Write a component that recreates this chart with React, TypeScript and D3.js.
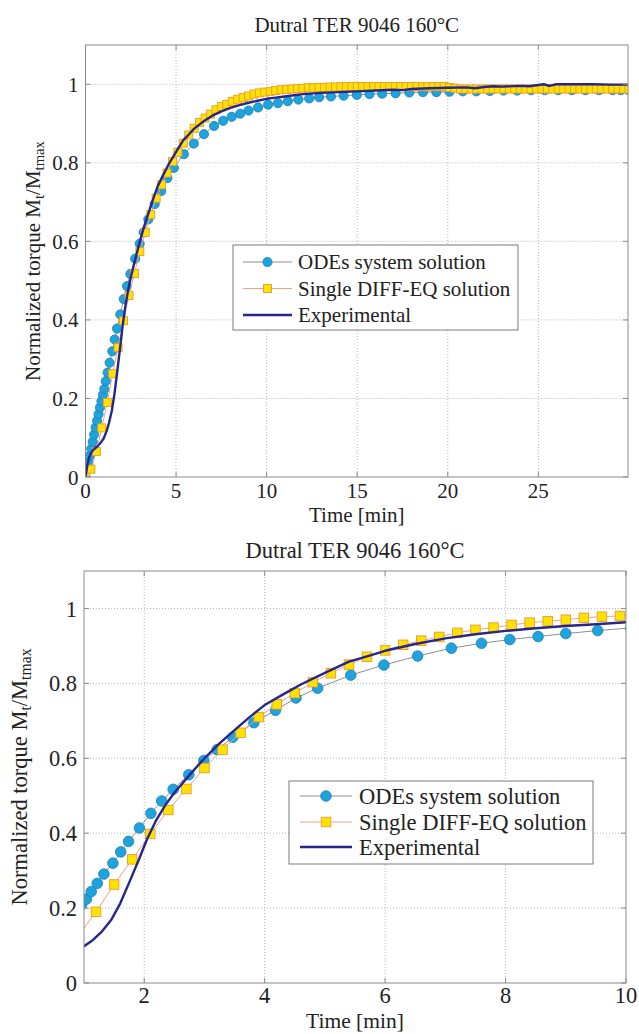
import React from "react";
import * as d3 from "d3";

const TITLE = "Dutral TER 9046 160°C";
const X_LABEL = "Time [min]";
const LEGEND_LABELS = ["ODEs system solution", "Single DIFF-EQ solution", "Experimental"];

// ODEs system solution (blue circles)
const ODE_TIME = [
  0, 0.08, 0.16, 0.24, 0.32, 0.4, 0.48, 0.56, 0.64, 0.72, 0.8, 0.88, 0.96,
  1.04, 1.12, 1.22, 1.33, 1.48, 1.61, 1.74, 1.92, 2.11, 2.29, 2.48,
  2.74, 2.99, 3.21, 3.47, 3.82, 4.18, 4.52, 4.88, 5.43, 5.98, 6.54, 7.1,
  7.6, 8.07, 8.54, 9.0, 9.53, 10.08, 10.62, 11.17, 11.75, 12.35, 12.9,
  13.55, 14.25, 14.98, 15.68, 16.38, 17.12, 17.88, 18.63, 19.37,
  20.1, 20.83, 21.58, 22.33, 23.08, 23.83, 24.6, 25.35, 26.1, 26.85, 27.6, 28.35, 29.1, 29.55, 30,
];
const ODE_VALUE = [
  0, 0.018, 0.036, 0.054, 0.072, 0.09, 0.108, 0.126, 0.143, 0.16, 0.177, 0.193, 0.209,
  0.224, 0.244, 0.266, 0.291, 0.32, 0.35, 0.378, 0.414, 0.453, 0.486, 0.517,
  0.556, 0.594, 0.623, 0.656, 0.695, 0.728, 0.761, 0.787, 0.822, 0.849, 0.873, 0.894,
  0.907, 0.917, 0.925, 0.933, 0.941, 0.948, 0.952, 0.957, 0.961, 0.964, 0.967,
  0.969, 0.971, 0.973, 0.975, 0.976, 0.977, 0.979, 0.98, 0.98,
  0.981, 0.982, 0.982, 0.983, 0.984, 0.984, 0.985, 0.985, 0.985, 0.985, 0.985, 0.985, 0.985, 0.985, 0.985,
];

// Single DIFF-EQ solution (yellow squares), sampled every 0.3 min
const SINGLE_STEP = 0.3;
const SINGLE_VALUE = [
  0, 0.02, 0.065, 0.125, 0.19, 0.263, 0.33, 0.398, 0.462, 0.518,
  0.574, 0.623, 0.668, 0.71, 0.744, 0.774, 0.803, 0.827, 0.85, 0.871,
  0.888, 0.903, 0.914, 0.924, 0.935, 0.943, 0.949, 0.956, 0.962, 0.966,
  0.97, 0.975, 0.978, 0.98,
  0.982, 0.984, 0.986, 0.987, 0.988, 0.989, 0.99, 0.991, 0.991, 0.992, 0.992, 0.993, 0.993,
  0.994, 0.994, 0.994, 0.994, 0.994, 0.994, 0.994, 0.994, 0.994, 0.994,
  0.994, 0.994, 0.994, 0.994, 0.994, 0.994, 0.994, 0.994, 0.994, 0.994,
  0.992, 0.99,
  0.988, 0.988, 0.988, 0.988, 0.988, 0.988, 0.988, 0.988, 0.988, 0.988, 0.988,
  0.988, 0.988, 0.988, 0.988, 0.988, 0.988, 0.988, 0.988, 0.988, 0.988, 0.988,
  0.988, 0.988, 0.988, 0.988, 0.988, 0.988, 0.988, 0.988, 0.988, 0.988,
];

// Experimental (navy line)
const EXP_TIME = [
  0, 0.1, 0.2, 0.35, 0.5, 0.7, 0.85, 1.0, 1.15, 1.3, 1.45, 1.6, 1.75, 1.9, 2.05, 2.2, 2.35, 2.5,
  2.75, 3.0, 3.25, 3.5, 3.75, 4.0, 4.3, 4.6, 5.0, 5.4, 5.7, 6.0, 6.5, 7.0, 7.5, 8.0, 8.5, 9.0, 9.5,
  10.0, 10.5, 11, 11.5, 12, 13, 14, 15, 16, 17, 17.5, 18, 19, 20, 21, 21.5, 22, 22.5, 23, 24, 24.5,
  25, 25.3, 25.6, 26, 27, 28, 29, 30,
];
const EXP_VALUE = [
  0, 0.03, 0.05, 0.065, 0.072, 0.08, 0.088, 0.098, 0.115, 0.138, 0.168, 0.212, 0.268, 0.325, 0.385, 0.435, 0.475, 0.508,
  0.555, 0.6, 0.64, 0.675, 0.71, 0.742, 0.77, 0.797, 0.828, 0.858, 0.872, 0.887, 0.905, 0.92, 0.931, 0.94, 0.947, 0.953, 0.958,
  0.963, 0.966, 0.969, 0.972, 0.975, 0.978, 0.98, 0.982, 0.984, 0.986, 0.985, 0.988, 0.99, 0.991, 0.992, 0.99, 0.993, 0.995, 0.994, 0.996, 0.995,
  0.998, 1.0, 0.996, 1.0, 1.0, 1.0, 0.999, 0.999,
];

const TOP_X_TICKS = [0, 5, 10, 15, 20, 25];
const BOTTOM_X_TICKS = [2, 4, 6, 8, 10];
const Y_TICKS = [0, 0.2, 0.4, 0.6, 0.8, 1];
const Y_TICK_LABELS = ["0", "0.2", "0.4", "0.6", "0.8", "1"];

const FONT = "Liberation Serif, Tinos, Times New Roman, Times, DejaVu Serif, serif";
const TEXT = "#222";
const C_ODE_LINE = "#8f8f8f";
const C_ODE_FILL = "#1fa3dc";
const C_ODE_STROKE = "#1c7fb4";
const C_SQ_LINE = "#f2a283";
const C_SQ_FILL = "#ffe200";
const C_SQ_STROKE = "#eb9a2c";
const C_EXP = "#26268c";

type Panel = {
  id: string;
  left: number; right: number; top: number; bottom: number;
  xDomain: [number, number];
  xTicks: number[];
  fs: number; xLabelFs: number;
  titleY: number; tickY: number; xLabelY: number; yLabelX: number;
  r: number; sq: number;
  legend: { x: number; y: number; w: number; h: number; rows: number[]; s0: number; s1: number; tx: number };
};

const PANELS: Panel[] = [
  {
    id: "top", left: 85.5, right: 628, top: 45, bottom: 477,
    xDomain: [0, 29.95], xTicks: TOP_X_TICKS, fs: 21, xLabelFs: 21,
    titleY: 32, tickY: 498, xLabelY: 522, yLabelX: 40,
    r: 4.6, sq: 8,
    legend: { x: 233, y: 245, w: 285, h: 85, rows: [262, 288.5, 315], s0: 243, s1: 292, tx: 298 },
  },
  {
    id: "bottom", left: 84, right: 626, top: 571, bottom: 983,
    xDomain: [1, 10], xTicks: BOTTOM_X_TICKS, fs: 22.5, xLabelFs: 21.5,
    titleY: 558, tickY: 1003, xLabelY: 1028, yLabelX: 27,
    r: 5.3, sq: 9.5,
    legend: { x: 289, y: 781, w: 304, h: 83, rows: [796, 822, 847], s0: 300, s1: 352, tx: 359 },
  },
];

function ChartPanel({ p }: { p: Panel }) {
  const x = d3.scaleLinear().domain(p.xDomain).range([p.left, p.right]);
  const y = d3.scaleLinear().domain([0, 1.1]).range([p.bottom, p.top]);
  const line = d3.line<[number, number]>().x((d) => x(d[0])).y((d) => y(d[1]));

  const ode: [number, number][] = ODE_TIME.map((t, i) => [t, ODE_VALUE[i]]);
  const single: [number, number][] = SINGLE_VALUE.map((v, i) => [+(i * SINGLE_STEP).toFixed(2), v]);
  const exp: [number, number][] = EXP_TIME.map((t, i) => [t, EXP_VALUE[i]]);
  const clip = `clip-${p.id}`;
  const cy = (p.top + p.bottom) / 2;
  const cx = (p.left + p.right) / 2;
  const L = p.legend;
  const tick = 5;

  return (
    <g>
      <defs>
        <clipPath id={clip}>
          <rect x={p.left} y={p.top} width={p.right - p.left} height={p.bottom - p.top} />
        </clipPath>
      </defs>
      <rect x={p.left} y={p.top} width={p.right - p.left} height={p.bottom - p.top} fill="#fff" />
      {p.xTicks.filter((t) => t !== p.xDomain[0] && t < p.xDomain[1]).map((t) => (
        <line key={`gx${t}`} x1={x(t)} x2={x(t)} y1={p.top} y2={p.bottom} stroke="#b5b5b5" strokeWidth={1} strokeDasharray="1,2" />
      ))}
      {Y_TICKS.filter((t) => t !== 0).map((t) => (
        <line key={`gy${t}`} x1={p.left} x2={p.right} y1={y(t)} y2={y(t)} stroke="#b5b5b5" strokeWidth={1} strokeDasharray="1,2" />
      ))}
      <g clipPath={`url(#${clip})`}>
        <path d={line(ode) || ""} fill="none" stroke={C_ODE_LINE} strokeWidth={1} />
        {ode.map((d, i) => (
          <circle key={`o${i}`} cx={x(d[0])} cy={y(d[1])} r={p.r} fill={C_ODE_FILL} stroke={C_ODE_STROKE} strokeWidth={0.8} />
        ))}
        <path d={line(single) || ""} fill="none" stroke={C_SQ_LINE} strokeWidth={1} />
        {single.map((d, i) => (
          <rect key={`s${i}`} x={x(d[0]) - p.sq / 2} y={y(d[1]) - p.sq / 2} width={p.sq} height={p.sq} fill={C_SQ_FILL} stroke={C_SQ_STROKE} strokeWidth={0.9} />
        ))}
        <path d={line(exp) || ""} fill="none" stroke={C_EXP} strokeWidth={2.4} strokeLinejoin="round" />
      </g>
      <rect x={p.left} y={p.top} width={p.right - p.left} height={p.bottom - p.top} fill="none" stroke="#8a8a8a" strokeWidth={1} />
      {p.xTicks.map((t) => (
        <g key={`tx${t}`}>
          <line x1={x(t)} x2={x(t)} y1={p.bottom} y2={p.bottom - tick} stroke="#8a8a8a" />
          <line x1={x(t)} x2={x(t)} y1={p.top} y2={p.top + tick} stroke="#8a8a8a" />
          <text x={x(t)} y={p.tickY} textAnchor="middle" fontSize={p.fs} style={{ fontFamily: FONT }} fill={TEXT}>{t}</text>
        </g>
      ))}
      {Y_TICKS.map((t, i) => (
        <g key={`ty${t}`}>
          <line x1={p.left} x2={p.left + tick} y1={y(t)} y2={y(t)} stroke="#8a8a8a" />
          <line x1={p.right} x2={p.right - tick} y1={y(t)} y2={y(t)} stroke="#8a8a8a" />
          <text x={p.left - 7} y={y(t)} dy="0.36em" textAnchor="end" fontSize={p.fs} style={{ fontFamily: FONT }} fill={TEXT}>{Y_TICK_LABELS[i]}</text>
        </g>
      ))}
      <text x={cx} y={p.titleY} textAnchor="middle" fontSize={p.fs} style={{ fontFamily: FONT }} fill={TEXT}>{TITLE}</text>
      <text x={cx} y={p.xLabelY} textAnchor="middle" fontSize={p.xLabelFs} style={{ fontFamily: FONT }} fill={TEXT}>{X_LABEL}</text>
      <text transform={`translate(${p.yLabelX},${cy}) rotate(-90)`} textAnchor="middle" fontSize={p.fs} style={{ fontFamily: FONT }} fill={TEXT}>
        Normalized torque M<tspan fontSize={p.fs * 0.7} dy={4}>t</tspan><tspan dy={-4}>/M</tspan><tspan fontSize={p.fs * 0.7} dy={4}>tmax</tspan>
      </text>
      <rect x={L.x} y={L.y} width={L.w} height={L.h} fill="#fff" stroke="#7a7a7a" strokeWidth={1} />
      <line x1={L.s0} x2={L.s1} y1={L.rows[0]} y2={L.rows[0]} stroke={C_ODE_LINE} strokeWidth={1} />
      <circle cx={(L.s0 + L.s1) / 2} cy={L.rows[0]} r={p.r} fill={C_ODE_FILL} stroke={C_ODE_STROKE} strokeWidth={0.8} />
      <line x1={L.s0} x2={L.s1} y1={L.rows[1]} y2={L.rows[1]} stroke={C_SQ_LINE} strokeWidth={1} />
      <rect x={(L.s0 + L.s1) / 2 - p.sq / 2} y={L.rows[1] - p.sq / 2} width={p.sq} height={p.sq} fill={C_SQ_FILL} stroke={C_SQ_STROKE} strokeWidth={0.9} />
      <line x1={L.s0} x2={L.s1} y1={L.rows[2]} y2={L.rows[2]} stroke={C_EXP} strokeWidth={2.4} />
      {LEGEND_LABELS.map((s, i) => (
        <text key={s} x={L.tx} y={L.rows[i]} dy="0.35em" fontSize={p.fs} style={{ fontFamily: FONT }} fill={TEXT}>{s}</text>
      ))}
    </g>
  );
}

export default function App() {
  return (
    <svg width={639} height={1034} style={{ position: "absolute", left: 0, top: 0, background: "#fff" }}>
      <rect x={0} y={0} width={639} height={1034} fill="#fff" />
      {PANELS.map((p) => (
        <ChartPanel key={p.id} p={p} />
      ))}
    </svg>
  );
}
